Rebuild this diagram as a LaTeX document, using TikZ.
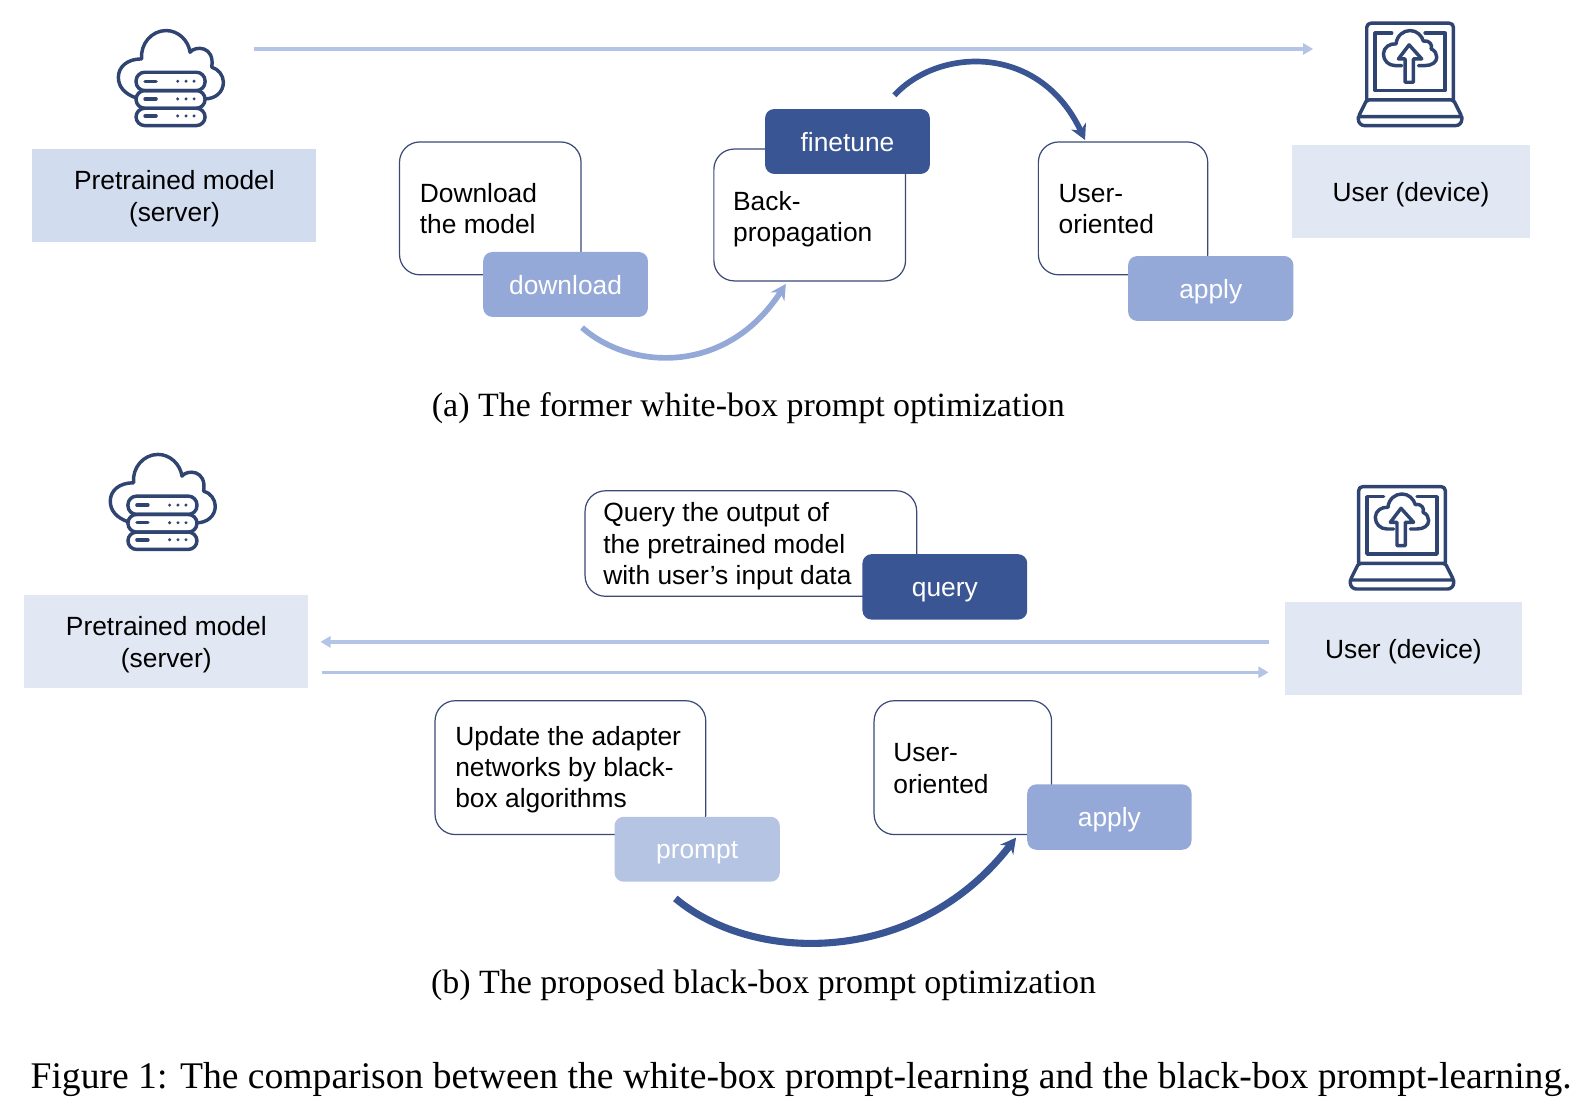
\documentclass[tikz,border=0pt]{standalone}
\usepackage{fontspec}
\setmainfont{Liberation Sans}
\newfontfamily\capfont{Liberation Serif}
\usetikzlibrary{arrows.meta}
\definecolor{navy}{HTML}{2F4470}
\definecolor{edgec}{HTML}{3A4A75}
\definecolor{tagdark}{HTML}{3A5594}
\definecolor{tagmid}{HTML}{95A9D9}
\definecolor{taglight}{HTML}{B6C4E4}
\definecolor{paneA}{HTML}{D2DCEF}
\definecolor{paneB}{HTML}{E1E7F3}
\definecolor{thinline}{HTML}{B4C4E6}
\tikzset{
  every node/.style={inner sep=0pt,outer sep=0pt},
  lab/.style={font=\fontsize{13}{15.5}\selectfont,text=black},
  captext/.style={font=\capfont\fontsize{16.75}{20}\selectfont,text=black},
  figcap/.style={font=\capfont\fontsize{18.55}{20}\selectfont,text=black},
  card/.style={draw=edgec,line width=0.6pt,fill=white,rounded corners=10pt},
  tagbox/.style={rounded corners=4.5pt,font=\fontsize{13}{15.5}\selectfont,text=white,text height=9.5pt,text depth=0pt},
  pane/.style={font=\fontsize{13}{15.5}\selectfont,align=center,text=black},
  thinarrow/.style={draw=thinline,line width=1.7pt,-{Triangle[length=5pt,width=5.5pt]}},
  curvearrow/.style={line width=#1,-{Stealth[length=7.5pt,width=8pt,inset=2.4pt]}},
  icon/.style={draw=navy,line width=1.7pt,line join=round,line cap=round}
}
\newcommand{\bx}[7][]{%
  \pgfmathsetmacro{\cxx}{(#3+#5)/2}\pgfmathsetmacro{\cyy}{(#4+#6)/2}%
  \pgfmathsetmacro{\ww}{(#5-#3)*0.5}\pgfmathsetmacro{\hh}{(#6-#4)*0.5}%
  \node[#1,minimum width=\ww pt,minimum height=\hh pt] (#2) at (\cxx,\cyy) {#7};}
\newcommand{\strutdown}{\rule{0pt}{12.6pt}}
\newcommand{\servericon}[2]{%
 \begin{scope}[shift={(#1,#2)},x=0.1644pt,y=-0.1644pt]
  \foreach \a/\b in {185/240,240/293,293/345}{
    \draw[icon,rounded corners=4.3pt] (138,\a) rectangle (345,\b);}
  \foreach \r in {212,265,316}{
    \draw[icon] (165,\r) -- (198,\r);
    \foreach \d in {263,288,312}{\fill[navy] (\d,\r) circle[radius=5];}}
  \draw[icon] (138,262) .. controls (105,250) and (85,230) .. (85,200)
    .. controls (85,170) and (110,145) .. (155,145)
    .. controls (150,100) and (185,60) .. (228,60)
    .. controls (265,60) and (295,90) .. (300,125)
    .. controls (315,105) and (375,105) .. (365,170)
    .. controls (385,175) and (400,195) .. (400,215)
    .. controls (400,245) and (375,265) .. (345,265);
 \end{scope}}
\newcommand{\laptopicon}[2]{%
 \begin{scope}[shift={(#1,#2)},x=0.1644pt,y=-0.1644pt]
  \draw[icon,rounded corners=2pt] (140,268) -- (140,38) -- (400,38) -- (400,268);
  \draw[icon,rounded corners=1pt] (140,268) -- (400,268) -- (425,318) -- (115,318) -- cycle;
  \draw[icon,rounded corners=3pt] (115,318) -- (115,345) -- (425,345) -- (425,318);
  \draw[icon] (215,68) -- (165,68) -- (165,240) -- (375,240) -- (375,68) -- (315,68);
  \draw[icon] (245,165) -- (225,165) .. controls (205,165) and (190,150) .. (190,130)
    .. controls (190,110) and (210,98) .. (228,100)
    .. controls (230,75) and (250,60) .. (270,60)
    .. controls (290,60) and (305,75) .. (310,92)
    .. controls (330,88) and (338,105) .. (333,115)
    .. controls (345,120) and (350,130) .. (350,140)
    .. controls (350,155) and (335,165) .. (315,165) -- (295,165);
  \draw[icon] (255,215) -- (255,145) -- (235,145) -- (267,103) -- (305,145) -- (280,145) -- (280,215) -- cycle;
 \end{scope}}
\begin{document}
\begin{tikzpicture}[x=0.5pt,y=-0.5pt]
\useasboundingbox (0,0) rectangle (1568,1093);
% --- panel (a)
\servericon{88.8}{10.4}
\laptopicon{1301.8}{10.4}
\bx[pane,fill=paneA]{srvA}{32}{147}{312}{238.5}{\strutdown Pretrained model\\(server)}
\bx[pane,fill=paneB]{usrA}{1274}{143}{1509}{234.5}{\strutdown User (device)}
\coordinate (topL) at (250,48.3);
\coordinate (topR) at (1295,48.3);
\draw[thinarrow] (topL) -- (topR);
\bx[card]{dlcard}{394}{140}{573}{271}{}
\bx[card]{bpcard}{704}{147}{893}{277}{}
\bx[card]{uocardA}{1024}{140}{1191}{271}{}
\node[lab,align=left,anchor=west] (dltext) at (414,205.5) {Download\\the model};
\node[lab,align=left,anchor=west] (bptext) at (723,216) {Back-\\propagation};
\node[lab,align=left,anchor=west] (uotextA) at (1044,206) {User-\\oriented};
\bx[tagbox,fill=tagmid]{dltag}{476.5}{248.5}{639}{312.5}{download}
\bx[tagbox,fill=tagdark]{fttag}{754.5}{107.5}{917}{171.5}{finetune}
\bx[tagbox,fill=tagmid]{aptagA}{1112.5}{252.5}{1275.5}{316.5}{apply}
\coordinate (dlS) at (574,323);
\coordinate (bpE) at (775,280);
\coordinate (ftS) at (882,94);
\coordinate (uoE) at (1070,138);
\draw[curvearrow=2.8pt,draw=tagmid] (dlS) .. controls (620,364) and (715,372) .. (bpE);
\draw[curvearrow=2.8pt,draw=tagdark] (ftS) .. controls (925,47) and (1025,42) .. (uoE);
\node[captext,anchor=base] (capa) at (738,411) {(a) The former white-box prompt optimization};
% --- panel (b)
\servericon{80.8}{428.4}
\laptopicon{1293.8}{467.4}
\bx[pane,fill=paneB]{srvB}{24}{587}{304}{678.5}{\strutdown Pretrained model\\(server)}
\bx[pane,fill=paneB]{usrB}{1267}{594}{1501}{685.5}{\strutdown User (device)}
\bx[card]{qcard}{577}{484}{904}{588}{}
\node[lab,align=left,anchor=west] (qtext) at (595,539) {Query the output of\\the pretrained model\\with user’s input data};
\bx[tagbox,fill=tagdark]{qtag}{850.5}{546.5}{1013}{611}{query}
\coordinate (upR) at (1251,633);
\coordinate (upL) at (316,633);
\coordinate (loL) at (318,663);
\coordinate (loR) at (1251,663);
\draw[thinarrow] (upR) -- (upL);
\draw[thinarrow] (loL) -- (loR);
\bx[card]{upcard}{429}{691}{696}{823}{}
\bx[card]{uocardB}{862}{691}{1037}{823}{}
\node[lab,align=left,anchor=west] (uptext) at (449,759) {Update the adapter\\networks by black-\\box algorithms};
\node[lab,align=left,anchor=west] (uotextB) at (881,758) {User-\\oriented};
\bx[tagbox,fill=taglight]{prtag}{606}{805.5}{769}{869.5}{prompt}
\bx[tagbox,fill=tagmid]{aptagB}{1013}{773.5}{1175}{838}{apply}
\coordinate (prS) at (666,886);
\coordinate (apE) at (1002,826);
\draw[curvearrow=3.5pt,draw=tagdark] (prS) .. controls (745,952) and (905,952) .. (apE);
\node[captext,anchor=base] (capb) at (753,980) {(b) The proposed black-box prompt optimization};
\node[figcap,anchor=base] (capf) at (790,1073) {Figure 1: The comparison between the white-box prompt-learning and the black-box prompt-learning.};
\end{tikzpicture}
\end{document}
